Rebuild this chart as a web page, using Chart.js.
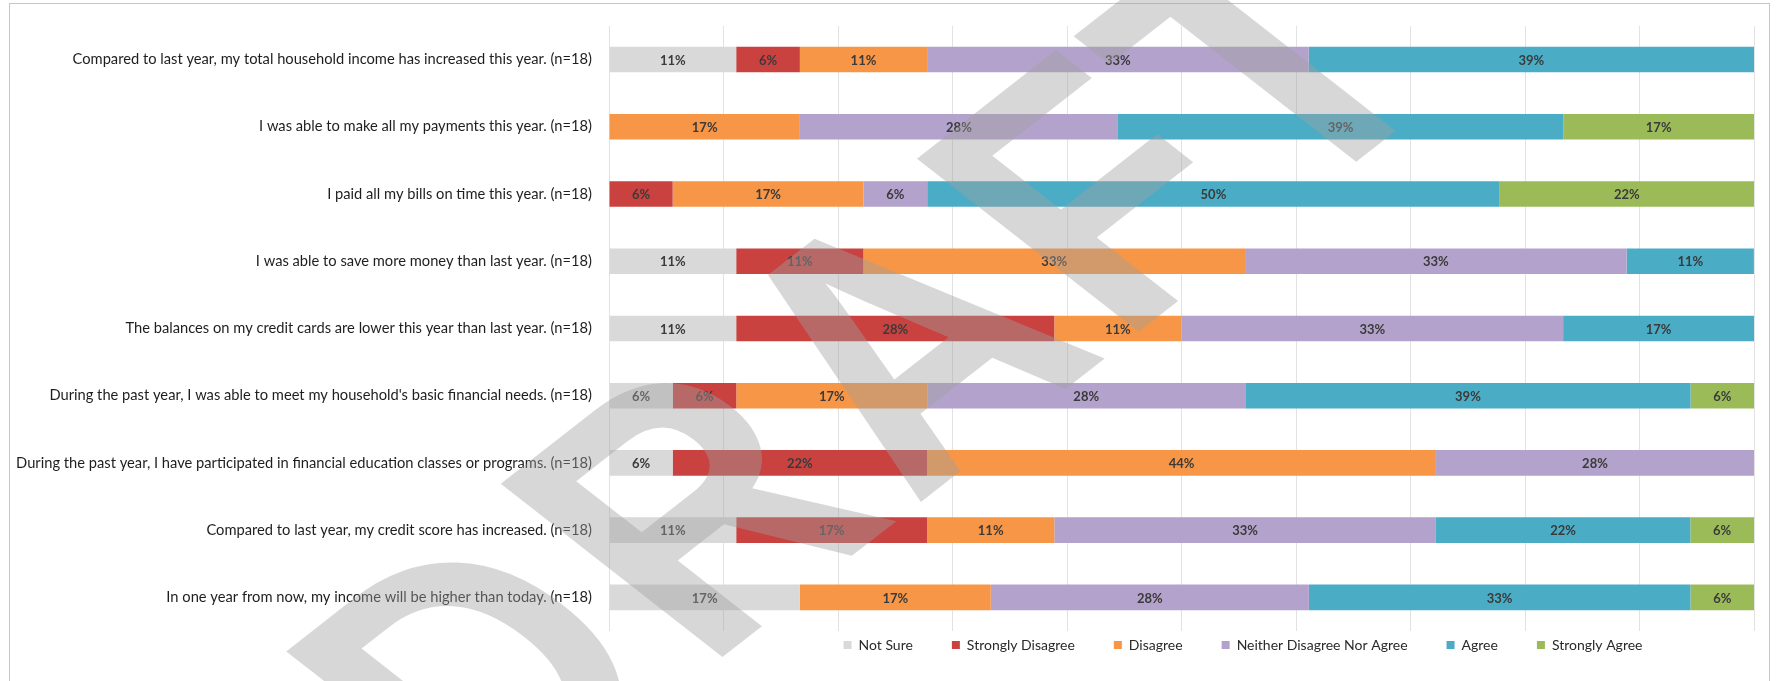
<!DOCTYPE html>
<html>
<head>
<meta charset="utf-8">
<title>Financial outcomes (n=18)</title>
<script src="https://cdn.jsdelivr.net/npm/chart.js@4.4.1/dist/chart.umd.min.js"></script>
<style>
  html, body { margin: 0; padding: 0; background: #fff; overflow: hidden; }
  #frame { position: absolute; left: 9px; top: 3px; width: 1761px; height: 740px; border: 1px solid #c6c6c6; box-sizing: border-box; }
  #wrap { position: absolute; left: 0; top: 0; width: 1777px; height: 681px; }
</style>
</head>
<body>
<div id="frame"></div>
<div id="wrap"><canvas id="chart"></canvas></div>
<script>
// Survey statements (top to bottom)
const QUESTIONS = [
  "Compared to last year, my total household income has increased this year. (n=18)",
  "I was able to make all my payments this year. (n=18)",
  "I paid all my bills on time this year. (n=18)",
  "I was able to save more money than last year. (n=18)",
  "The balances on my credit cards are lower this year than last year. (n=18)",
  "During the past year, I was able to meet my household's basic financial needs. (n=18)",
  "During the past year, I have participated in financial education classes or programs. (n=18)",
  "Compared to last year, my credit score has increased. (n=18)",
  "In one year from now, my income will be higher than today. (n=18)"
];

// Share of answers per statement, in %
const NOT_SURE          = [11.11, 0, 0, 11.11, 11.11, 5.56, 5.56, 11.11, 16.67];
const STRONGLY_DISAGREE = [5.56, 0, 5.56, 11.11, 27.78, 5.56, 22.22, 16.67, 0];
const DISAGREE          = [11.11, 16.67, 16.67, 33.33, 11.11, 16.67, 44.44, 11.11, 16.67];
const NEITHER           = [33.33, 27.78, 5.56, 33.33, 33.33, 27.78, 27.78, 33.33, 27.78];
const AGREE             = [38.89, 38.89, 50, 11.11, 16.67, 38.89, 0, 22.22, 33.33];
const STRONGLY_AGREE    = [0, 16.67, 22.22, 0, 0, 5.56, 0, 5.56, 5.56];

const SERIES_NAMES = ['Not Sure','Strongly Disagree','Disagree','Neither Disagree Nor Agree','Agree','Strongly Agree'];
const SERIES_DATA = [NOT_SURE, STRONGLY_DISAGREE, DISAGREE, NEITHER, AGREE, STRONGLY_AGREE];
const COLORS = ['#d9d9d9','#c9423f','#f79646','#b3a2cb','#4bacc6','#9bbb59'];

// percentage text in the middle of every segment
const segmentLabels = {
  id: 'segmentLabels',
  afterDatasetsDraw(chart){
    const ctx = chart.ctx;
    ctx.save();
    ctx.font = 'bold 13px Lato';
    ctx.fillStyle = '#3a3a3a';
    ctx.textAlign = 'center';
    ctx.textBaseline = 'middle';
    chart.data.datasets.forEach((ds, i)=>{
      chart.getDatasetMeta(i).data.forEach((bar, j)=>{
        const v = ds.data[j];
        if(!v) return;
        const p = bar.getProps(['x','y','base'], true);
        ctx.fillText(Math.round(v) + '%', (p.x + p.base) / 2, p.y + 1);
      });
    });
    ctx.restore();
  }
};

// legend sits right of centre and close under the plot
const legendShift = {
  id: 'legendShift',
  beforeDraw(chart){
    const lg = chart.legend;
    if(!lg || lg._moved) return;
    const w = lg.right - lg.left;
    lg.left = 1243 - w / 2;
    lg.right = lg.left + w;
    lg.top -= 32;
    lg.bottom = lg.top + 110;
    lg._moved = true;
  }
};

// grey DRAFT stamp (rotated, then stretched sideways like the pasted picture)
// origin is the baseline centre of the "A"; letters are slightly condensed
const watermark = {
  id: 'watermark',
  afterDraw(chart){
    const ctx = chart.ctx;
    const letters = [['D',-469],['R',-232],['A',0],['F',211],['T',401]];
    ctx.save();
    ctx.translate(1013, 430);
    ctx.scale(1.28, 1);
    ctx.rotate(-Math.PI / 4);
    ctx.font = 'bold 356px "Liberation Sans", Arial, sans-serif';
    ctx.fillStyle = 'rgba(160,160,160,0.42)';
    ctx.textAlign = 'center';
    ctx.textBaseline = 'alphabetic';
    letters.forEach(([ch, x])=>{
      ctx.save();
      ctx.translate(x, 0);
      ctx.scale(0.85, 1);
      ctx.fillText(ch, 0, 0);
      ctx.restore();
    });
    ctx.restore();
  }
};

new Chart(document.getElementById('chart'), {
  type: 'bar',
  data: {
    labels: QUESTIONS,
    datasets: SERIES_NAMES.map((name, i)=>({
      label: name,
      data: SERIES_DATA[i],
      backgroundColor: COLORS[i],
      borderWidth: 0,
      barPercentage: 0.76,
      categoryPercentage: 0.5
    }))
  },
  options: {
    indexAxis: 'y',
    responsive: true,
    maintainAspectRatio: false,
    animation: false,
    layout: { padding: { top: 19, right: 23, bottom: 22, left: 0 } },
    scales: {
      x: {
        stacked: true, min: 0, max: 100,
        ticks: { display: false, stepSize: 10 },
        grid: { color: '#e2e2e2', drawTicks: false },
        border: { display: false }
      },
      y: {
        stacked: true,
        grid: { display: false, drawTicks: false },
        border: { display: false },
        ticks: { color: '#1e1e1e', font: { family: 'Lato', size: 14.7 }, padding: 17 },
        afterFit: s => { s.width = 609; }
      }
    },
    plugins: {
      legend: {
        position: 'bottom',
        maxHeight: 28,
        labels: { boxWidth: 8, boxHeight: 8, padding: 39, color: '#2a2a2a', font: { family: 'Lato', size: 14 } }
      },
      tooltip: { enabled: false }
    }
  },
  plugins: [segmentLabels, legendShift, watermark]
});
</script>
</body>
</html>
